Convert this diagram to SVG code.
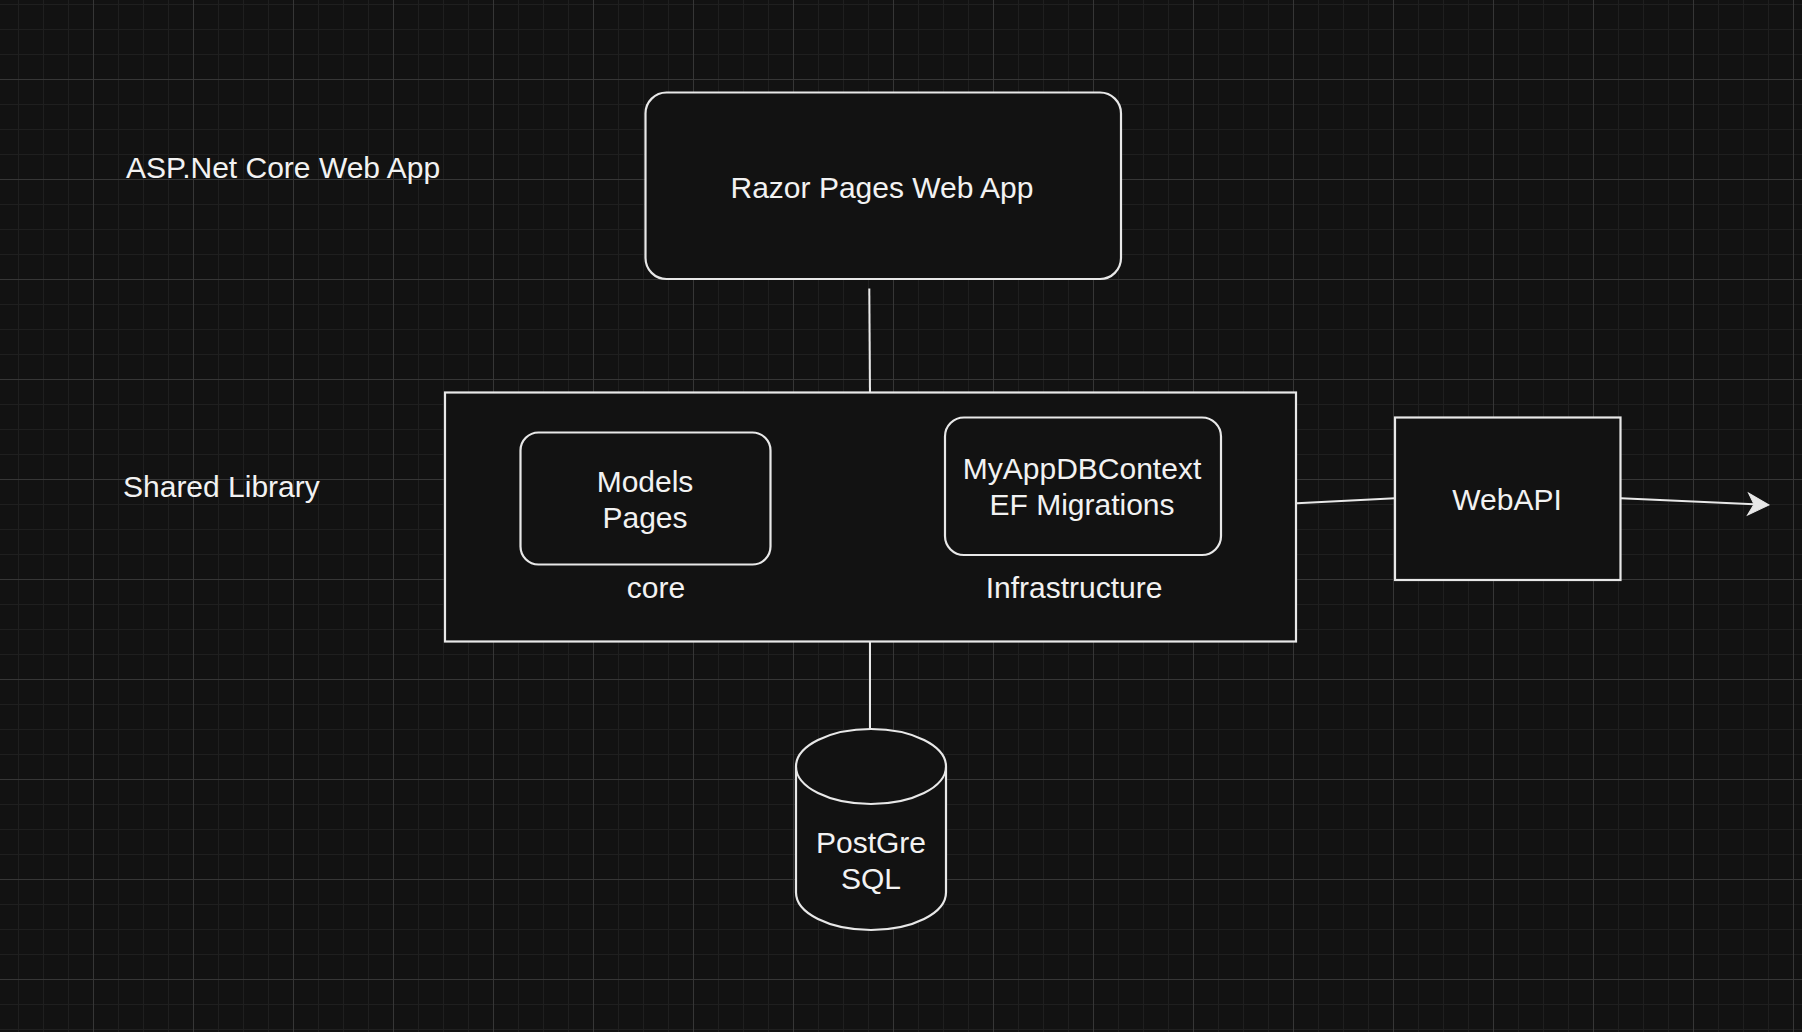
<svg xmlns="http://www.w3.org/2000/svg" width="1802" height="1032" viewBox="0 0 1802 1032">
<style>
  .bg { fill: #121212; }
  .node { fill: #121212; stroke: #e8e8e8; stroke-width: 2.2; }
  .edge { fill: none; stroke: #e8e8e8; stroke-width: 2; }
  .label { font-family: "Liberation Sans", Arial, Helvetica, sans-serif; font-size: 30px; fill: #f2f2f2; text-anchor: middle; }
  .free { font-family: "Liberation Sans", Arial, Helvetica, sans-serif; font-size: 30px; fill: #f2f2f2; text-anchor: start; }
</style>
<defs>
  <pattern id="minor" patternUnits="userSpaceOnUse" x="18" y="4" width="25" height="25">
    <path d="M0.5,0 V25 M0,0.5 H25" stroke="#1f1f1f" stroke-width="1" fill="none"/>
  </pattern>
  <pattern id="major" patternUnits="userSpaceOnUse" x="93" y="79" width="100" height="100">
    <path d="M0.5,0 V100 M0,0.5 H100" stroke="#363636" stroke-width="1" fill="none"/>
  </pattern>
  <marker id="arrow" markerUnits="userSpaceOnUse" markerWidth="30" markerHeight="30" viewBox="-10 -15 30 30" refX="0" refY="0" orient="auto">
    <path d="M15,0 L-6,-11 L0,0 L-6,11 Z" fill="#e8e8e8" stroke="#e8e8e8" stroke-width="1" stroke-linejoin="miter"/>
  </marker>
</defs>
<rect class="bg" x="0" y="0" width="1802" height="1032"/>
<rect x="0" y="0" width="1802" height="1032" fill="url(#minor)"/>
<rect x="0" y="0" width="1802" height="1032" fill="url(#major)"/>

<g id="label-aspnet">
  <text class="free" x="126" y="177.5">ASP.Net Core Web App</text>
</g>
<g id="label-shared">
  <text class="free" x="123" y="497">Shared Library</text>
</g>

<g id="connectors">
  <line class="edge" x1="869.3" y1="288.5" x2="870" y2="392"/>
  <line class="edge" x1="870" y1="642" x2="870" y2="729"/>
  <line class="edge" x1="1292" y1="503.5" x2="1395" y2="498.3"/>
  <line class="edge" x1="1621" y1="498.3" x2="1754" y2="504.3" marker-end="url(#arrow)"/>
</g>

<g id="razor">
  <rect class="node" x="645.5" y="92.5" width="475.5" height="186.5" rx="21" ry="21"/>
  <text class="label" x="882" y="198">Razor Pages Web App</text>
</g>

<g id="shared-library">
  <rect class="node" x="445" y="392.5" width="851" height="249"/>
  <text class="label" x="656" y="598">core</text>
  <text class="label" x="1074" y="598">Infrastructure</text>
</g>

<g id="core">
  <rect class="node" x="520.5" y="432.5" width="250" height="132" rx="18" ry="18"/>
  <text class="label" x="645" y="491.5">Models</text>
  <text class="label" x="645" y="527.5">Pages</text>
</g>

<g id="infrastructure">
  <rect class="node" x="945" y="417.5" width="276" height="137.5" rx="19" ry="19"/>
  <text class="label" x="1082" y="479">MyAppDBContext</text>
  <text class="label" x="1082" y="515">EF Migrations</text>
</g>

<g id="webapi">
  <rect class="node" x="1395" y="417.5" width="225.5" height="162.5"/>
  <text class="label" x="1507" y="510">WebAPI</text>
</g>

<g id="postgresql">
  <path class="node" d="M796,766.5 A75,37.5 0 0 1 946,766.5 L946,892.5 A75,37.5 0 0 1 796,892.5 Z"/>
  <path class="edge" d="M796,766.5 A75,37.5 0 0 0 946,766.5"/>
  <text class="label" x="871" y="852.5">PostGre</text>
  <text class="label" x="871" y="889">SQL</text>
</g>
</svg>
